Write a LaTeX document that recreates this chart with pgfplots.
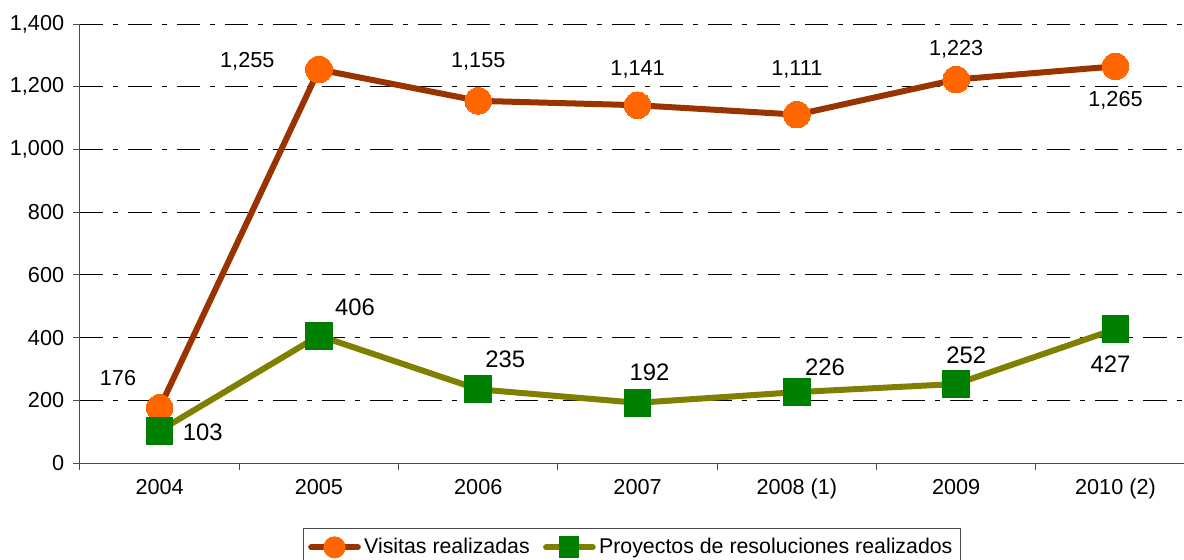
\documentclass[border=0pt]{standalone}
\usepackage{pgfplots}
\pgfplotsset{compat=1.18}
\usepackage{fontspec}
\setmainfont{Liberation Sans}
\definecolor{visline}{HTML}{993300}
\definecolor{vismark}{HTML}{FF6600}
\definecolor{proline}{HTML}{808000}
\definecolor{promark}{HTML}{008000}
\begin{document}
\begin{tikzpicture}
\begin{axis}[
  at={(0,0)}, anchor=south west,
  scale only axis, width=662.4pt, height=263.4pt,
  xmin=-0.5, xmax=6.43, ymin=0, ymax=1400,
  axis lines=left, axis line style={-, black!70, line width=0.6pt},
  xtick={-0.5,0.5,...,6.5},
  xticklabels={},
  extra x ticks={0,...,6},
  extra x tick labels={2004,2005,2006,2007,2008 (1),2009,2010 (2)},
  extra x tick style={tick style={draw=none}},
  major tick length=4pt,
  tick align=outside,
  tick style={black!70, line width=0.6pt},
  ytick={0,200,...,1400},
  ymajorgrids,
  major grid style={black, line width=0.5pt, dash pattern=on 14pt off 6pt on 3pt off 6pt},
  /pgf/number format/1000 sep={,},
  /pgf/number format/fixed,
  /pgf/number format/assume math mode=true,
  ticklabel style={font=\fontsize{13}{15}\selectfont},
  xticklabel style={yshift=-2pt},
  yticklabel style={xshift=-2pt},
  clip=false,
  legend style={at={(0.5,-0.148)}, anchor=north, legend columns=2,
    draw=black!70, line width=0.5pt, font=\fontsize{12.8}{15}\selectfont,
    inner xsep=3pt, inner ysep=4pt,
    /tikz/every even column/.append style={column sep=6pt}},
  legend cell align=left,
]
\addplot[visline, line width=3.6pt, mark=*, mark size=8pt,
  mark options={fill=vismark, draw=vismark, line width=0pt},
  legend image code/.code={
    \draw[visline, line width=3.6pt, line cap=round] (0pt,0pt) -- (28pt,0pt);
    \fill[vismark] (14pt,0pt) circle (4.8pt);}]
  coordinates {(0,176) (1,1255) (2,1155) (3,1141) (4,1111) (5,1223) (6,1265)};
\addlegendentry{Visitas realizadas}
\addplot[proline, line width=3.6pt, mark=square*, mark size=8pt,
  mark options={fill=promark, draw=promark, line width=0pt},
  legend image code/.code={
    \draw[proline, line width=3.6pt, line cap=round] (0pt,0pt) -- (28pt,0pt);
    \fill[promark] (9.8pt,-4.8pt) rectangle (18.2pt,4.8pt);}]
  coordinates {(0,103) (1,406) (2,235) (3,192) (4,226) (5,252) (6,427)};
\addlegendentry{Proyectos de resoluciones realizados}

\begin{scope}[every node/.style={font=\fontsize{13}{15}\selectfont, inner sep=0pt}]
\node[xshift=-25pt, yshift=18pt] at (axis cs:0,176) {176};
\node[xshift=-43pt, yshift=5pt] at (axis cs:1,1255) {1,255};
\node[yshift=23.4pt] at (axis cs:2,1155) {1,155};
\node[yshift=21.6pt] at (axis cs:3,1141) {1,141};
\node[yshift=27pt] at (axis cs:4,1111) {1,111};
\node[yshift=18pt] at (axis cs:5,1223) {1,223};
\node[yshift=-20.4pt] at (axis cs:6,1265) {1,265};
\end{scope}
\begin{scope}[every node/.style={font=\fontsize{14.3}{17}\selectfont, inner sep=0pt}]
\node[xshift=25.8pt, yshift=-1pt] at (axis cs:0,103) {103};
\node[xshift=21.6pt, yshift=16.8pt] at (axis cs:1,406) {406};
\node[xshift=16.2pt, yshift=18pt] at (axis cs:2,235) {235};
\node[xshift=7.2pt, yshift=18.6pt] at (axis cs:3,192) {192};
\node[xshift=16.8pt, yshift=15pt] at (axis cs:4,226) {226};
\node[xshift=6pt, yshift=17.4pt] at (axis cs:5,252) {252};
\node[xshift=-3pt, yshift=-21pt] at (axis cs:6,427) {427};
\end{scope}
\end{axis}
\pgfresetboundingbox
\path[use as bounding box] (-48pt,-57.6pt) rectangle (662.4pt,277.8pt);
\end{tikzpicture}
\end{document}
